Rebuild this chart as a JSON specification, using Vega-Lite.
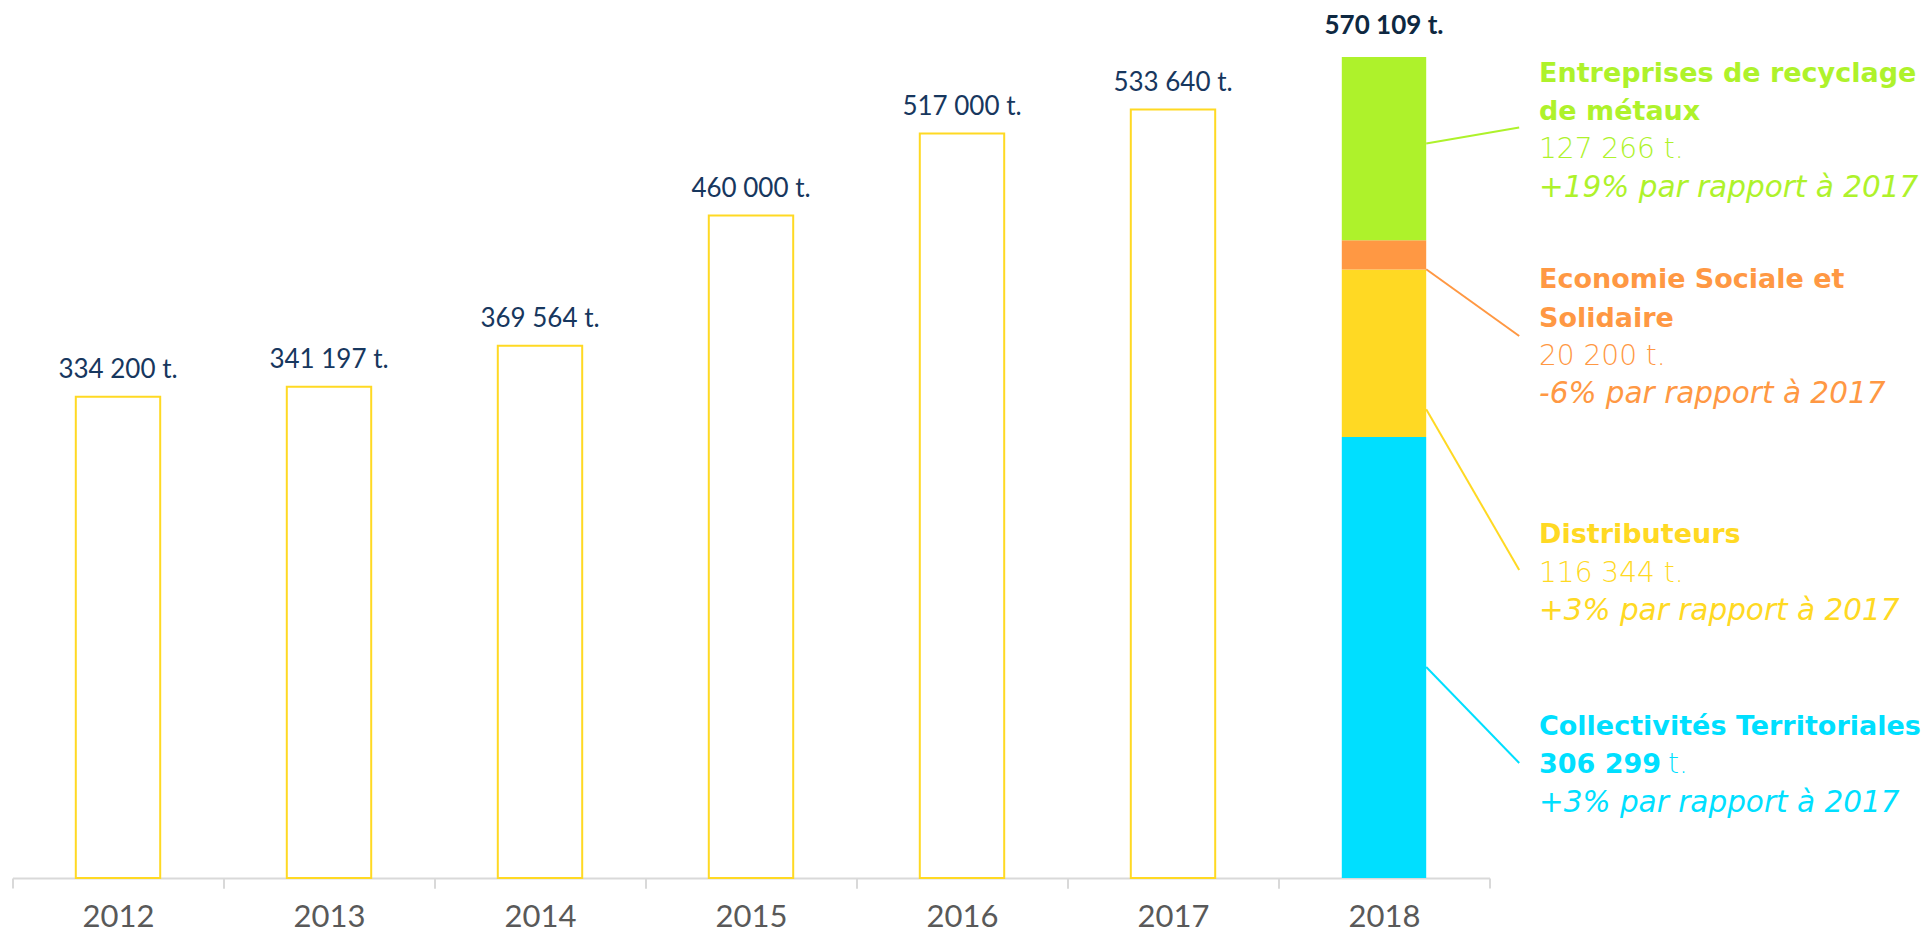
{
  "$schema": "https://vega.github.io/schema/vega-lite/v6.json",
  "width": 1477,
  "height": 864,
  "autosize": "none",
  "padding": {"left": 12.5, "top": 14, "right": 435.5, "bottom": 56},
  "background": "white",
  "config": {"view": {"stroke": null}, "font": "Lato"},
  "resolve": {"axis": {"x": "independent"}},
  "datasets": {
    "totals": [
      {"year": "2012", "total": 334200, "label": "334 200 t."},
      {"year": "2013", "total": 341197, "label": "341 197 t."},
      {"year": "2014", "total": 369564, "label": "369 564 t."},
      {"year": "2015", "total": 460000, "label": "460 000 t."},
      {"year": "2016", "total": 517000, "label": "517 000 t."},
      {"year": "2017", "total": 533640, "label": "533 640 t."},
      {"year": "2018", "total": 570109, "label": "570 109 t."}
    ],
    "split": [
      {"year": "2018", "category": "Collectivités Territoriales", "tonnes": 306299, "rank": 1},
      {"year": "2018", "category": "Distributeurs", "tonnes": 116344, "rank": 2},
      {"year": "2018", "category": "Economie Sociale et Solidaire", "tonnes": 20200, "rank": 3},
      {"year": "2018", "category": "Entreprises de recyclage de métaux", "tonnes": 127266, "rank": 4}
    ],
    "notes": [
      {"year": "2018", "category": "Entreprises de recyclage de métaux", "titleTop": "Entreprises de recyclage", "titleBottom": "de métaux", "valueText": "127 266 t.", "pct": "+19% par rapport à 2017", "leaderFrom": 510000, "leaderTo": 521200, "valueAt": 499800},
      {"year": "2018", "category": "Economie Sociale et Solidaire", "titleTop": "Economie Sociale et", "titleBottom": "Solidaire", "valueText": "20 200 t.", "pct": "-6% par rapport à 2017", "leaderFrom": 422700, "leaderTo": 376400, "valueAt": 356250},
      {"year": "2018", "category": "Distributeurs", "titleTop": "", "titleBottom": "Distributeurs", "valueText": "116 344 t.", "pct": "+3% par rapport à 2017", "leaderFrom": 325500, "leaderTo": 213900, "valueAt": 205800},
      {"year": "2018", "category": "Collectivités Territoriales", "titleTop": "", "titleBottom": "Collectivités Territoriales", "valueText": "306 299", "pct": "+3% par rapport à 2017", "leaderFrom": 146500, "leaderTo": 79900, "valueAt": 72700}
    ]
  },
  "layer": [
    {
      "data": {"name": "totals"},
      "transform": [{"filter": "datum.year != '2018'"}],
      "mark": {"type": "bar", "fill": "white", "stroke": "#FFD923", "strokeWidth": 2},
      "encoding": {
        "x": {
          "field": "year", "type": "nominal",
          "scale": {"type": "band", "paddingInner": 0.6, "paddingOuter": 0.3},
          "axis": {
            "title": null, "orient": "bottom", "labelAngle": 0,
            "domainColor": "#D9D9D9", "domainWidth": 2,
            "tickColor": "#D9D9D9", "tickWidth": 2, "tickSize": 10,
            "bandPosition": 0, "tickExtra": false, "tickOffset": -63.3, "labelOffset": 63.3,
            "labelFont": "Lato", "labelFontSize": 31, "labelColor": "#595959",
            "labelPadding": 14
          }
        },
        "y": {"field": "total", "type": "quantitative", "scale": {"domain": [0, 600000], "nice": false}, "axis": null}
      }
    },
    {
      "data": {"name": "split"},
      "mark": {"type": "bar"},
      "encoding": {
        "x": {
          "field": "year", "type": "nominal",
          "axis": {
            "title": null, "orient": "bottom", "labels": false, "domain": false,
            "tickColor": "#D9D9D9", "tickWidth": 2, "tickSize": 10,
            "bandPosition": 1, "tickExtra": false, "tickOffset": 63.3
          }
        },
        "y": {"field": "tonnes", "type": "quantitative", "stack": "zero", "scale": {"domain": [0, 600000], "nice": false}, "axis": null},
        "order": {"field": "rank", "type": "quantitative"},
        "color": {
          "field": "category", "type": "nominal", "legend": null,
          "scale": {
            "domain": ["Collectivités Territoriales", "Distributeurs", "Economie Sociale et Solidaire", "Entreprises de recyclage de métaux"],
            "range": ["#00DFFF", "#FFD923", "#FF9843", "#AEF22B"]
          }
        }
      }
    },
    {
      "data": {"name": "totals"},
      "transform": [{"filter": "datum.year != '2018'"}],
      "mark": {"type": "text", "baseline": "alphabetic", "dy": -19, "fontSize": 26, "color": "#17375E"},
      "encoding": {
        "x": {"field": "year", "type": "nominal", "axis": null},
        "y": {"field": "total", "type": "quantitative"},
        "text": {"field": "label"}
      }
    },
    {
      "data": {"name": "totals"},
      "transform": [{"filter": "datum.year == '2018'"}],
      "mark": {"type": "text", "baseline": "alphabetic", "dy": -23, "fontSize": 26, "fontWeight": "bold", "color": "#0E2841"},
      "encoding": {
        "x": {"field": "year", "type": "nominal", "axis": null},
        "y": {"field": "total", "type": "quantitative"},
        "text": {"field": "label"}
      }
    },
    {
      "data": {"name": "notes"},
      "mark": {"type": "rule", "strokeWidth": 2, "x2Offset": 93},
      "encoding": {
        "x": {"field": "year", "type": "nominal", "bandPosition": 1, "axis": null},
        "x2": {"field": "year", "bandPosition": 1},
        "y": {"field": "leaderFrom", "type": "quantitative"},
        "y2": {"field": "leaderTo"},
        "color": {"field": "category", "type": "nominal", "legend": null}
      }
    },
    {
      "data": {"name": "notes"},
      "transform": [{"filter": "datum.titleTop != ''"}],
      "mark": {"type": "text", "align": "left", "baseline": "alphabetic", "dx": 155, "dy": -76.6, "font": "DejaVu Sans", "fontSize": 27, "fontWeight": "bold"},
      "encoding": {
        "x": {"field": "year", "type": "nominal", "axis": null},
        "y": {"field": "valueAt", "type": "quantitative"},
        "text": {"field": "titleTop"},
        "color": {"field": "category", "type": "nominal", "legend": null}
      }
    },
    {
      "data": {"name": "notes"},
      "mark": {"type": "text", "align": "left", "baseline": "alphabetic", "dx": 155, "dy": -38.3, "font": "DejaVu Sans", "fontSize": 27, "fontWeight": "bold"},
      "encoding": {
        "x": {"field": "year", "type": "nominal", "axis": null},
        "y": {"field": "valueAt", "type": "quantitative"},
        "text": {"field": "titleBottom"},
        "color": {"field": "category", "type": "nominal", "legend": null}
      }
    },
    {
      "data": {"name": "notes"},
      "transform": [{"filter": "datum.category != 'Collectivités Territoriales'"}],
      "mark": {"type": "text", "align": "left", "baseline": "alphabetic", "dx": 155, "font": "DejaVu Sans", "fontSize": 28, "fontWeight": 200},
      "encoding": {
        "x": {"field": "year", "type": "nominal", "axis": null},
        "y": {"field": "valueAt", "type": "quantitative"},
        "text": {"field": "valueText"},
        "color": {"field": "category", "type": "nominal", "legend": null}
      }
    },
    {
      "data": {"name": "notes"},
      "transform": [{"filter": "datum.category == 'Collectivités Territoriales'"}],
      "mark": {"type": "text", "align": "left", "baseline": "alphabetic", "dx": 155, "font": "DejaVu Sans", "fontSize": 27, "fontWeight": "bold"},
      "encoding": {
        "x": {"field": "year", "type": "nominal", "axis": null},
        "y": {"field": "valueAt", "type": "quantitative"},
        "text": {"field": "valueText"},
        "color": {"field": "category", "type": "nominal", "legend": null}
      }
    },
    {
      "data": {"name": "notes"},
      "transform": [{"filter": "datum.category == 'Collectivités Territoriales'"}],
      "mark": {"type": "text", "align": "left", "baseline": "alphabetic", "dx": 284, "font": "DejaVu Sans", "fontSize": 28, "fontWeight": 200, "text": "t."},
      "encoding": {
        "x": {"field": "year", "type": "nominal", "axis": null},
        "y": {"field": "valueAt", "type": "quantitative"},
        "color": {"field": "category", "type": "nominal", "legend": null}
      }
    },
    {
      "data": {"name": "notes"},
      "mark": {"type": "text", "align": "left", "baseline": "alphabetic", "dx": 155, "dy": 38.3, "font": "DejaVu Sans", "fontSize": 29.5, "fontWeight": 200, "fontStyle": "italic"},
      "encoding": {
        "x": {"field": "year", "type": "nominal", "axis": null},
        "y": {"field": "valueAt", "type": "quantitative"},
        "text": {"field": "pct"},
        "color": {"field": "category", "type": "nominal", "legend": null}
      }
    }
  ]
}
